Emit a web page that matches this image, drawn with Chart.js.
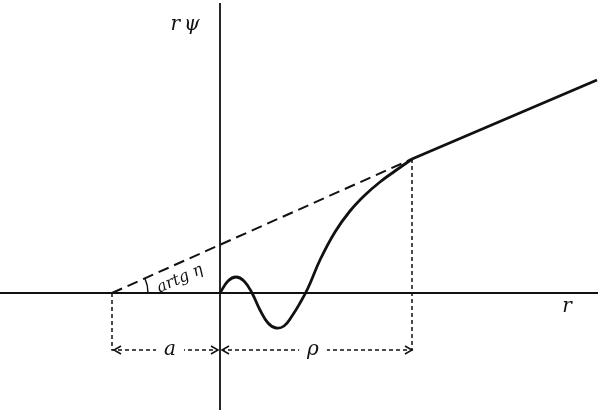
<!DOCTYPE html>
<html>
<head>
<meta charset="utf-8">
<script src="https://cdn.jsdelivr.net/npm/chart.js@4/dist/chart.umd.min.js"></script>
<style>
  html, body { margin: 0; padding: 0; background: #fff; }
  #wrap { width: 600px; height: 413px; }
</style>
</head>
<body>
<div id="wrap"><canvas id="c"></canvas></div>
<script>
// wave function r*psi (data units, origin at the axes crossing)
const curveX = [0, 8, 16, 24, 32, 40, 48, 56, 64, 72, 80, 88, 100, 115, 130, 145, 160, 175, 185, 192];
const curveY = [0, 12, 16, 12, 0, -17, -30, -35, -33, -23, -10, 5, 33, 61, 82, 98, 111, 122, 129, 134];
// straight asymptote beyond rho
const outerX = [192, 377];
const outerY = [134, 213];
// dashed extrapolation back to the r axis
const tangentX = [-108, 192];
const tangentY = [0, 134];

const scatteringLength = -108;
const rho = 192;
const markerY = -57;

const labels = [
  { text: "r\u2009\u03c8", x: -35, y: 268 },
  { text: "r", x: 347, y: -14 },
  { text: "a", x: -50, y: markerY },
  { text: "\u03c1", x: 93, y: markerY }
];

const pts = (xs, ys) => xs.map((x, i) => ({ x, y: ys[i] }));

const annotations = {
  id: "annotations",
  afterDatasetsDraw(chart) {
    const { ctx, scales: { x, y } } = chart;
    ctx.save();
    ctx.fillStyle = "#111";
    ctx.strokeStyle = "#111";
    ctx.textAlign = "center";
    ctx.textBaseline = "middle";
    ctx.font = "italic 20px 'DejaVu Serif', 'Liberation Serif', serif";
    labels.forEach(l => {
      // white box behind the marker labels so the dashed line breaks
      if (l.y === markerY) {
        const w = ctx.measureText(l.text).width + 16;
        ctx.fillStyle = "#fff";
        ctx.fillRect(x.getPixelForValue(l.x) - w / 2, y.getPixelForValue(l.y) - 8, w, 16);
        ctx.fillStyle = "#111";
      }
      ctx.fillText(l.text, x.getPixelForValue(l.x), y.getPixelForValue(l.y));
    });

    // arrowheads on the a and rho markers
    const my = y.getPixelForValue(markerY);
    const head = (px, dir) => {
      ctx.beginPath();
      ctx.setLineDash([]);
      ctx.lineWidth = 1.5;
      ctx.moveTo(px - dir * 7, my - 4);
      ctx.lineTo(px, my);
      ctx.lineTo(px - dir * 7, my + 4);
      ctx.stroke();
    };
    head(x.getPixelForValue(scatteringLength) + 2, -1);
    head(x.getPixelForValue(0) - 2, 1);
    head(x.getPixelForValue(0) + 2, -1);
    head(x.getPixelForValue(rho), 1);

    // angle arc and label
    const cx = x.getPixelForValue(scatteringLength);
    const cy = y.getPixelForValue(0);
    const ang = Math.atan2(cy - y.getPixelForValue(tangentY[1]), x.getPixelForValue(tangentX[1]) - cx);
    ctx.beginPath();
    ctx.lineWidth = 1.5;
    ctx.arc(cx, cy, 36, -ang, 0);
    ctx.stroke();
    ctx.translate(cx + 68, cy - 14);
    ctx.rotate(-ang);
    ctx.font = "italic 16px 'DejaVu Serif', 'Liberation Serif', serif";
    ctx.fillText("artg \u03b7", 0, 0);
    ctx.restore();
  }
};

new Chart(document.getElementById("c"), {
  type: "scatter",
  data: {
    datasets: [
      { data: [{ x: -220, y: 0 }, { x: 378, y: 0 }], borderColor: "#111", borderWidth: 1.8 },
      { data: [{ x: 0, y: 290 }, { x: 0, y: -117 }], borderColor: "#111", borderWidth: 1.8 },
      { data: pts(tangentX, tangentY), borderColor: "#111", borderWidth: 2, borderDash: [11, 6] },
      { data: [{ x: scatteringLength, y: 0 }, { x: scatteringLength, y: markerY }, { x: -2, y: markerY }],
        borderColor: "#111", borderWidth: 1.5, borderDash: [4, 3] },
      { data: [{ x: rho, y: tangentY[1] }, { x: rho, y: markerY }, { x: 2, y: markerY }],
        borderColor: "#111", borderWidth: 1.5, borderDash: [4, 3] },
      { data: pts(curveX, curveY), borderColor: "#111", borderWidth: 2.8, tension: 0.4 },
      { data: pts(outerX, outerY), borderColor: "#111", borderWidth: 2.8 }
    ]
  },
  options: {
    responsive: true,
    maintainAspectRatio: false,
    animation: false,
    showLine: true,
    elements: { point: { radius: 0 } },
    layout: { padding: 0 },
    plugins: { legend: { display: false }, tooltip: { enabled: false } },
    scales: {
      x: { type: "linear", min: -220, max: 380, display: false },
      y: { type: "linear", min: -120, max: 293, display: false }
    }
  },
  plugins: [annotations]
});
</script>
</body>
</html>
